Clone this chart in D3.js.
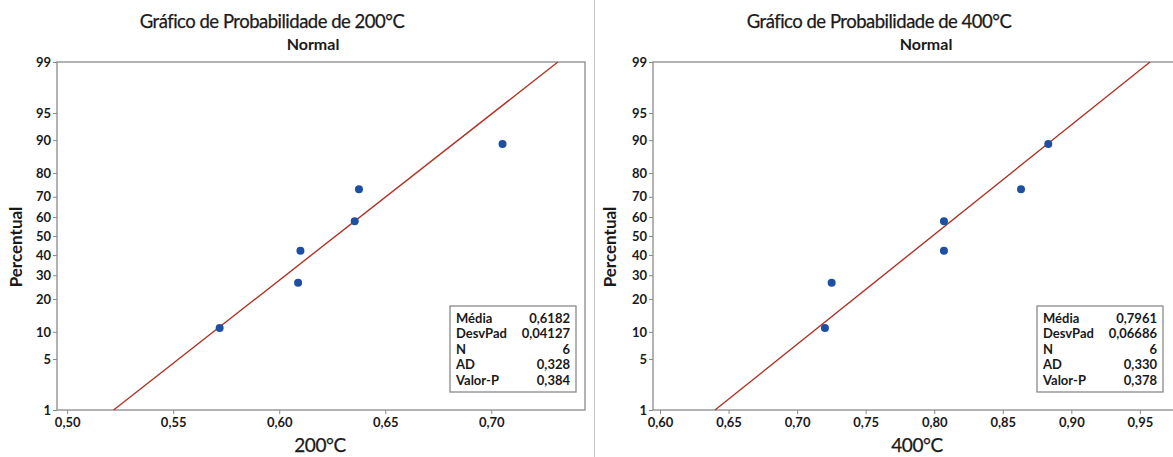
<!DOCTYPE html>
<html>
<head>
<meta charset='utf-8'>
<script src='https://d3js.org/d3.v7.min.js'></script>
<style>
  body { margin: 0; background: #fff; }
  svg text { font-family: Lato, 'Open Sans', sans-serif; fill: #1a1a1a; }
  .axis path { display: none; }
  .axis line { stroke: #8a8a8a; }
  .axis text { font-size: 13px; font-weight: bold; fill: #1a1a1a; }
</style>
</head>
<body>
<script>
// percent values of the plotted points (median ranks, n = 6)
var percentiles = [10.94, 26.56, 42.19, 57.81, 73.44, 89.06];
var yTicks = [1, 5, 10, 20, 30, 40, 50, 60, 70, 80, 90, 95, 99];

var x200 = [0.5719, 0.6089, 0.6100, 0.6356, 0.6376, 0.7053];
var x400 = [0.7203, 0.7252, 0.8071, 0.8071, 0.8633, 0.8832];

var xTicks200 = [0.50, 0.55, 0.60, 0.65, 0.70];
var xTicks400 = [0.60, 0.65, 0.70, 0.75, 0.80, 0.85, 0.90, 0.95];

// fitted line, x value at 1% and at 99%
var fit200 = [0.5219, 0.7314];
var fit400 = [0.6401, 0.9574];

var statLabels = ['Média', 'DesvPad', 'N', 'AD', 'Valor-P'];
var stats200 = ['0,6182', '0,04127', '6', '0,328', '0,384'];
var stats400 = ['0,7961', '0,06686', '6', '0,330', '0,378'];

// inverse normal cdf (Acklam)
function probit(p) {
  var a = [-39.6968302866538, 220.946098424521, -275.928510446969, 138.357751867269, -30.6647980661472, 2.50662827745924];
  var b = [-54.4760987982241, 161.585836858041, -155.698979859887, 66.8013118877197, -13.2806815528857];
  var c = [-0.00778489400243029, -0.322396458041136, -2.40075827716184, -2.54973253934373, 4.37466414146497, 2.93816398269878];
  var d = [0.00778469570904146, 0.32246712907004, 2.445134137143, 3.75440866190742];
  var q, r;
  if (p < 0.02425) {
    q = Math.sqrt(-2 * Math.log(p));
    return (((((c[0]*q+c[1])*q+c[2])*q+c[3])*q+c[4])*q+c[5]) / ((((d[0]*q+d[1])*q+d[2])*q+d[3])*q+1);
  } else if (p > 1 - 0.02425) {
    q = Math.sqrt(-2 * Math.log(1 - p));
    return -(((((c[0]*q+c[1])*q+c[2])*q+c[3])*q+c[4])*q+c[5]) / ((((d[0]*q+d[1])*q+d[2])*q+d[3])*q+1);
  }
  q = p - 0.5; r = q * q;
  return (((((a[0]*r+a[1])*r+a[2])*r+a[3])*r+a[4])*r+a[5])*q / (((((b[0]*r+b[1])*r+b[2])*r+b[3])*r+b[4])*r+1);
}

var W = 1173, H = 457;
var svg = d3.select('body').append('svg')
  .attr('width', W)
  .attr('height', H);

// separator between the two graphs
svg.append('line')
  .attr('x1', 594.5).attr('x2', 594.5)
  .attr('y1', 0).attr('y2', H)
  .attr('stroke', '#c8c8c8');

function drawPanel(opt) {
  var top = 62, bottom = 410;
  var x = d3.scaleLinear().domain(opt.xDomain).range([opt.left, opt.right]);
  var y = d3.scaleLinear().domain([probit(0.01), probit(0.99)]).range([bottom, top]);
  var yp = function(v) { return y(probit(v / 100)); };

  svg.append('text')
    .attr('x', opt.titleX).attr('y', 28)
    .attr('text-anchor', 'middle')
    .style('font-size', '18.5px')
    .style('letter-spacing', '-0.5px')
    .style('stroke', '#1a1a1a')
    .style('stroke-width', '0.25px')
    .text(opt.title);
  svg.append('text')
    .attr('x', opt.subX).attr('y', 50)
    .attr('text-anchor', 'middle')
    .style('font-size', '16px')
    .style('font-weight', 'bold')
    .text('Normal');

  var g = svg.append('g');

  g.append('g')
    .attr('class', 'axis')
    .attr('transform', 'translate(0,' + bottom + ')')
    .call(d3.axisBottom(x).tickValues(opt.xTicks).tickSize(4).tickPadding(4)
      .tickFormat(function(d) { return d3.format('.2f')(d).replace('.', ','); }));

  g.append('g')
    .attr('class', 'axis')
    .attr('transform', 'translate(' + opt.left + ',0)')
    .call(d3.axisLeft(y).tickValues(yTicks.map(function(v) { return probit(v / 100); }))
      .tickSize(4).tickPadding(2)
      .tickFormat(function(d, i) { return yTicks[i]; }));

  // frame
  g.append('rect')
    .attr('x', opt.left).attr('y', top)
    .attr('width', opt.right - opt.left).attr('height', bottom - top)
    .attr('fill', 'none')
    .attr('stroke', '#8a8a8a')
    .attr('stroke-width', 1.3);

  // fitted line
  g.append('line')
    .attr('x1', x(opt.fit[0])).attr('y1', yp(1))
    .attr('x2', x(opt.fit[1])).attr('y2', yp(99))
    .attr('stroke', '#ad3528')
    .attr('stroke-width', 1.4);

  g.selectAll('circle.pt')
    .data(opt.xs)
    .enter()
    .append('circle')
    .attr('class', 'pt')
    .attr('cx', function(d) { return x(d); })
    .attr('cy', function(d, i) { return yp(percentiles[i]); })
    .attr('r', 4)
    .attr('fill', '#1f4fa3');

  // axis titles
  svg.append('text')
    .attr('transform', 'translate(' + opt.yTitleX + ',247) rotate(-90)')
    .attr('text-anchor', 'middle')
    .style('font-size', '17px')
    .style('font-weight', 'bold')
    .text('Percentual');
  svg.append('text')
    .attr('x', opt.xTitleX).attr('y', 452)
    .attr('text-anchor', 'middle')
    .style('font-size', '19px')
    .style('letter-spacing', '-0.4px')
    .style('stroke', '#1a1a1a')
    .style('stroke-width', '0.25px')
    .text(opt.xTitle);

  // stats box
  var box = svg.append('g').attr('transform', 'translate(' + opt.boxX + ',306)');
  box.append('rect')
    .attr('width', 126).attr('height', 86)
    .attr('fill', '#fff')
    .attr('stroke', '#8a8a8a')
    .attr('stroke-width', 1.3);
  statLabels.forEach(function(s, i) {
    box.append('text')
      .attr('x', 6).attr('y', 16.5 + i * 15.5)
      .style('font-size', '13px').style('font-weight', 'bold')
      .text(s);
    box.append('text')
      .attr('x', 120).attr('y', 16.5 + i * 15.5)
      .attr('text-anchor', 'end')
      .style('font-size', '13px').style('font-weight', 'bold')
      .text(opt.stats[i]);
  });
}

drawPanel({
  title: 'Gráfico de Probabilidade de 200°C', titleX: 272, subX: 313,
  left: 57, right: 585, xDomain: [0.4952, 0.7442],
  xTicks: xTicks200, xs: x200, fit: fit200,
  yTitleX: 22, xTitle: '200°C', xTitleX: 320,
  boxX: 450, stats: stats200
});

drawPanel({
  title: 'Gráfico de Probabilidade de 400°C', titleX: 879, subX: 926,
  left: 653, right: 1185, xDomain: [0.5949, 0.9829],
  xTicks: xTicks400, xs: x400, fit: fit400,
  yTitleX: 616, xTitle: '400°C', xTitleX: 917,
  boxX: 1037, stats: stats400
});
</script>
</body>
</html>
